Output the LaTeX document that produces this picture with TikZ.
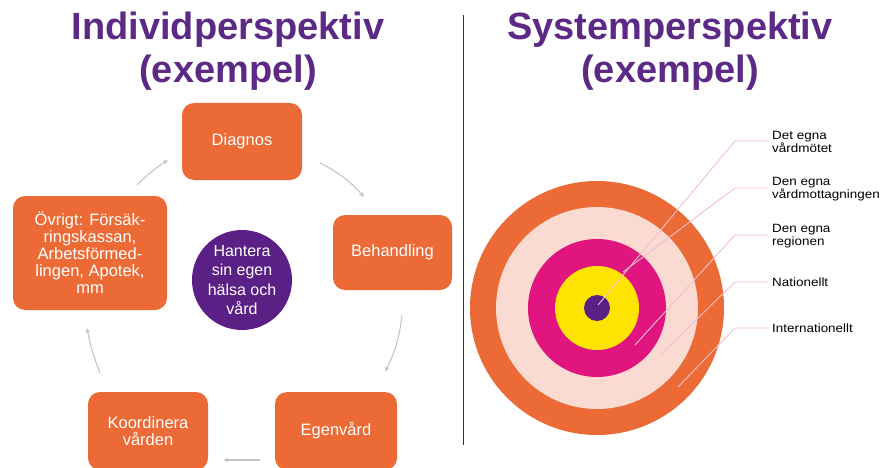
\documentclass[tikz,border=0pt]{standalone}
\usepackage{fontspec}
\setmainfont{Liberation Sans}
\newfontfamily\labelfont{Liberation Sans}[FakeStretch=1.12]
\usetikzlibrary{arrows.meta,calc}

\definecolor{titlepurple}{HTML}{5C2A86}
\definecolor{boxorange}{HTML}{EC6A35}
\definecolor{corepurple}{HTML}{5A2086}
\definecolor{ringpink}{HTML}{FADAD1}
\definecolor{ringmagenta}{HTML}{E0157F}
\definecolor{ringyellow}{HTML}{FFE400}
\definecolor{cyclegray}{HTML}{C9C2C2}
\definecolor{leadpink}{HTML}{F0BFD0}

\begin{document}
\begin{tikzpicture}[x=1pt,y=1pt,
  title/.style={text=titlepurple, align=center, inner sep=0pt,
    font=\fontsize{38}{44}\selectfont\bfseries},
  stagebox/.style={fill=boxorange, rounded corners=12pt, text=white,
    align=center, inner sep=0pt, font=\fontsize{16.5}{17}\selectfont},
  hub/.style={circle, fill=corepurple, text=white, align=center,
    inner sep=0pt, minimum size=100pt, font=\fontsize{16}{19.5}\selectfont},
  cyc/.style={draw=cyclegray, line width=1.1pt,
    -{Stealth[length=5pt,width=4.5pt]}},
  lead/.style={draw=leadpink, line width=0.9pt},
  ringlabel/.style={anchor=west, align=left, inner sep=0pt,
    font=\labelfont\fontsize{12}{13}\selectfont},
  divider/.style={draw=black!80, line width=0.9pt}]

\useasboundingbox (0,0) rectangle (889,467);

% headings (base anchor sits on the last line)
\node[title, anchor=base] (tleft) at (228,384) {Individperspektiv\\(exempel)};
\node[title, anchor=base] (tright) at (670,384) {Systemperspektiv\\(exempel)};

% separating rule
\draw[divider] (463,22) -- (463,452);

% ---- care cycle ----
\node[stagebox, minimum width=120pt, minimum height=77pt] (diag) at (242,325.5) {Diagnos};
\node[stagebox, minimum width=119pt, minimum height=75pt] (beh) at (392.5,214.5) {Behandling};
\node[stagebox, minimum width=122pt, minimum height=78pt] (egen) at (336,36) {Egenvård};
\node[stagebox, minimum width=120pt, minimum height=78pt] (koord) at (148,36) {Koordinera\\vården};
\node[stagebox, minimum width=154pt, minimum height=114pt] (ovr) at (90,214)
  {Övrigt: Försäk-\\ringskassan,\\Arbetsförmed-\\lingen, Apotek,\\mm};
\node[hub] (hant) at (242,187) {Hantera\\sin egen\\hälsa och\\vård};

\draw[cyc] ($(diag.east)+(18,-21.5)$) to[bend left=10] ($(beh.north)+(-28.5,18)$);
\draw[cyc] ($(beh.south)+(9.5,-25)$) to[bend left=10] ($(egen.north)+(49,20)$);
\draw[cyc] ($(egen.west)+(-15,-29)$) -- ($(koord.east)+(15,-29)$);
\draw[cyc] ($(koord.north)+(-48,19)$) to[bend left=5] ($(ovr.south)+(-3,-18)$);
\draw[cyc] ($(ovr.north)+(47,11)$) to[bend left=5] ($(diag.west)+(-14,-18.5)$);

% ---- system levels ----
\coordinate (tc) at (597,159);
\fill[boxorange] (tc) circle[radius=127];
\fill[ringpink] (tc) circle[radius=101];
\fill[ringmagenta] (tc) circle[radius=69];
\fill[ringyellow] (tc) circle[radius=42];
\fill[corepurple] (tc) circle[radius=13];

\node[ringlabel] (l1) at (772,325.5) {Det egna\\vårdmötet};
\node[ringlabel] (l2) at (772,278) {Den egna\\vårdmottagningen};
\node[ringlabel] (l3) at (772,231) {Den egna\\regionen};
\node[ringlabel] (l4) at (772,185) {Nationellt};
\node[ringlabel] (l5) at (772,139) {Internationellt};

\coordinate (s1) at (598,162); \coordinate (e1) at (735,326);
\coordinate (s2) at (623,195); \coordinate (e2) at (735,279);
\coordinate (s3) at (635,122); \coordinate (e3) at (735,232);
\coordinate (s4) at (660,112); \coordinate (e4) at (735,185);
\coordinate (s5) at (678,80);  \coordinate (e5) at (735,139);

\draw[lead] (s1) -- (e1) -- ([xshift=-4pt]e1 -| l1.west);
\draw[lead] (s2) -- (e2) -- ([xshift=-4pt]e2 -| l2.west);
\draw[lead] (s3) -- (e3) -- ([xshift=-4pt]e3 -| l3.west);
\draw[lead] (s4) -- (e4) -- ([xshift=-4pt]e4 -| l4.west);
\draw[lead] (s5) -- (e5) -- ([xshift=-4pt]e5 -| l5.west);

\end{tikzpicture}
\end{document}
